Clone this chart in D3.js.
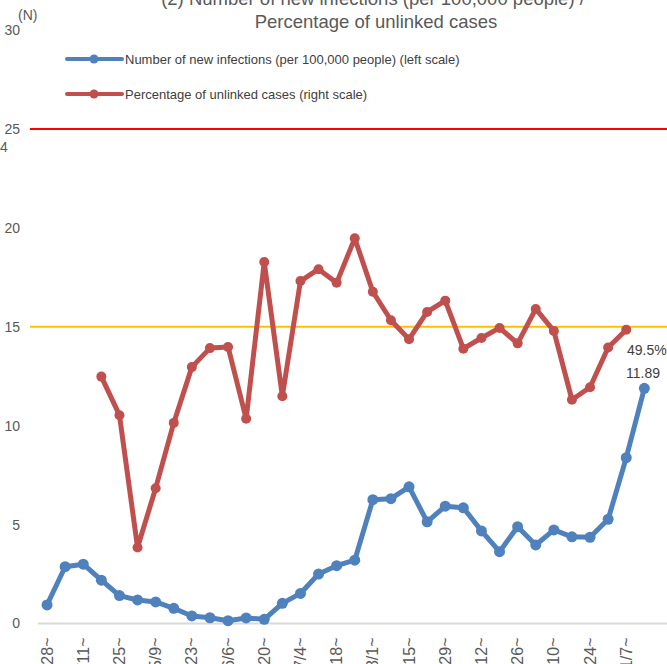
<!DOCTYPE html>
<meta charset="utf-8">
<style>
body { margin: 0; }
svg { font-family: "Liberation Sans", Arial, sans-serif; }
.tick text { fill: #595959; font-size: 14px; }
.legend text { fill: #404040; font-size: 13px; }
.title { fill: #595959; font-size: 18.5px; text-anchor: middle; }
</style>
<svg width="667" height="664"></svg>
<script src="https://cdn.jsdelivr.net/npm/d3@7"></script>
<script>

var weeks = ["3/28~","4/4~","4/11~","4/18~","4/25~","5/2~","5/9~","5/16~","5/23~","5/30~",
  "6/6~","6/13~","6/20~","6/27~","7/4~","7/11~","7/18~","7/25~","8/1~","8/8~",
  "8/15~","8/22~","8/29~","9/5~","9/12~","9/19~","9/26~","10/3~","10/10~","10/17~",
  "10/24~","10/31~","11/7~","11/14~"];

// new infections per 100,000 (left scale)
var infections = [0.94,2.87,3.0,2.19,1.41,1.19,1.09,0.77,0.38,0.29,
  0.14,0.28,0.21,1.02,1.52,2.5,2.92,3.2,6.26,6.31,
  6.91,5.14,5.93,5.85,4.68,3.63,4.89,3.97,4.73,4.38,
  4.36,5.27,8.38,11.89];

// percentage of unlinked cases (right scale), starts at week 4
var unlinked = [null,null,null,41.6,35.1,12.8,22.8,33.8,43.2,46.4,
  46.6,34.5,60.9,38.3,57.7,59.7,57.4,64.9,55.9,51.1,
  47.9,52.5,54.4,46.3,48.1,49.8,47.2,53.0,49.3,37.7,
  39.8,46.5,49.5,null];

var leftTicks = [0,5,10,15,20,25,30];
var refLines = [{v: 25, color: "#ff0000"}, {v: 15, color: "#ffc000"}];
var legendItems = [
  {name: "Number of new infections (per 100,000 people) (left scale)", color: "#4f81bd"},
  {name: "Percentage of unlinked cases (right scale)", color: "#c0504d"}
];

var svg = d3.select("svg");

var x = d3.scaleBand().domain(weeks).range([38, 653.4]);
var y = d3.scaleLinear().domain([0, 30]).range([623.5, 30]);
var yR = d3.scaleLinear().domain([0, 100]).range([623.5, 30]);
var cx = function(i) { return x(weeks[i]) + x.bandwidth() / 2; };

// title (top part cropped)
svg.append("text").attr("class", "title").attr("x", 373).attr("y", 5)
  .text("(2) Number of new infections (per 100,000 people) /");
svg.append("text").attr("class", "title").attr("x", 376).attr("y", 28)
  .text("Percentage of unlinked cases");

svg.append("text").attr("x", 18).attr("y", 20).attr("fill", "#595959")
  .style("font-size", "14px").text("(N)");
svg.append("text").attr("x", 0).attr("y", 152).attr("fill", "#595959")
  .style("font-size", "14px").text("4");

// left axis labels
var ay = svg.append("g").attr("transform", "translate(20,0)")
  .call(d3.axisLeft(y).tickValues(leftTicks).tickSize(0).tickPadding(0));
ay.select(".domain").remove();

// baseline
svg.append("line").attr("x1", 38).attr("x2", 667)
  .attr("y1", y(0)).attr("y2", y(0))
  .attr("stroke", "#d9d9d9").attr("stroke-width", 2);

// x axis labels
var ax = svg.append("g").attr("transform", "translate(0," + (y(0) + 14) + ")")
  .call(d3.axisBottom(x).tickValues(weeks.filter(function(d, i) { return i % 2 === 0; }))
    .tickSize(0).tickPadding(0));
ax.select(".domain").remove();
ax.selectAll("text")
  .style("font-size", "16px")
  .attr("transform", "rotate(-90)")
  .attr("x", 0).attr("y", 0).attr("dy", "0.35em")
  .style("text-anchor", "end");

// reference lines
svg.selectAll(".ref").data(refLines).enter().append("line")
  .attr("x1", 30).attr("x2", 667)
  .attr("y1", function(d) { return y(d.v); })
  .attr("y2", function(d) { return y(d.v); })
  .attr("stroke", function(d) { return d.color; })
  .attr("stroke-width", 2);

function series(vals, scale, color, r) {
  var line = d3.line()
    .defined(function(d) { return d != null; })
    .x(function(d, i) { return cx(i); })
    .y(function(d) { return scale(d); });
  svg.append("path").datum(vals)
    .attr("fill", "none").attr("stroke", color)
    .attr("stroke-width", 5).attr("stroke-linejoin", "round")
    .attr("d", line);
  svg.append("g").selectAll("circle")
    .data(vals.map(function(v, i) { return {v: v, i: i}; }).filter(function(d) { return d.v != null; }))
    .enter().append("circle")
    .attr("cx", function(d) { return cx(d.i); })
    .attr("cy", function(d) { return scale(d.v); })
    .attr("r", r).attr("fill", color);
}

series(unlinked, yR, "#c0504d", 5);
series(infections, y, "#4f81bd", 5.5);

// data labels
var lastR = 32, lastB = infections.length - 1;
svg.append("text").attr("x", 627).attr("y", yR(unlinked[lastR]) + 25)
  .attr("fill", "#404040").style("font-size", "14px").text(unlinked[lastR] + "%");
svg.append("text").attr("x", 626).attr("y", y(infections[lastB]) - 10)
  .attr("fill", "#404040").style("font-size", "14px").text(infections[lastB]);

// legend
var lg = svg.append("g").attr("class", "legend");
legendItems.forEach(function(d, i) {
  var yy = 59 + i * 35;
  lg.append("line").attr("x1", 67).attr("x2", 122).attr("y1", yy).attr("y2", yy)
    .attr("stroke", d.color).attr("stroke-width", 4).attr("stroke-linecap", "round");
  lg.append("circle").attr("cx", 94).attr("cy", yy).attr("r", 4.5).attr("fill", d.color);
  lg.append("text").attr("x", 125).attr("y", yy).attr("dy", "0.35em").text(d.name);
});

</script>
